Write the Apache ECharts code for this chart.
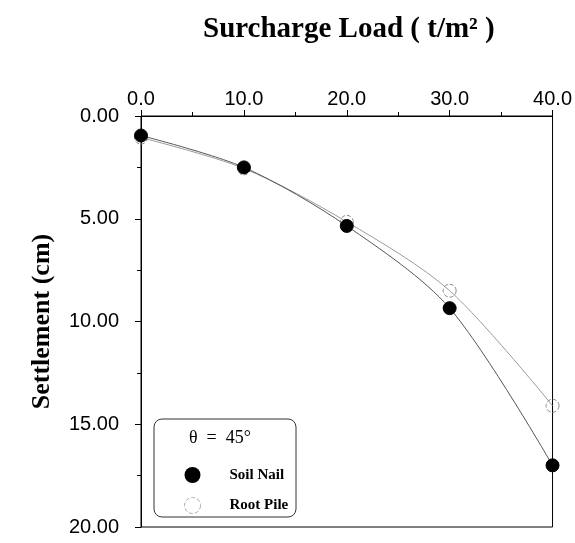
<!DOCTYPE html>
<html>
<head>
<meta charset="utf-8">
<script src="https://cdn.jsdelivr.net/npm/echarts@6/dist/echarts.min.js"></script>
<style>
  html, body { margin: 0; padding: 0; background: #fff; }
  #main { width: 575px; height: 543px; }
</style>
</head>
<body>
<div id="main"></div>
<script>
var loads = [0, 10, 20, 30, 40];
var soilNail = [0.95, 2.5, 5.35, 9.35, 17.0];
var rootPile = [1.05, 2.55, 5.15, 8.5, 14.1];
var seriesNames = ['Soil Nail', 'Root Pile'];

function pairs(vals) {
    return loads.map(function (x, i) { return [x, vals[i]]; });
}

var myChart = echarts.init(document.getElementById('main'));

var option = {
    animation: false,
    title: {
        text: 'Surcharge Load ( t/m\u00B2 )',
        left: 198,
        top: 10,
        textStyle: {
            fontFamily: 'Liberation Serif',
            fontWeight: 'bold',
            fontSize: 29,
            color: '#000'
        }
    },
    grid: {
        left: 141, right: 22, top: 116, bottom: 16,
        show: true,
        borderColor: '#000',
        borderWidth: 1
    },
    legend: {
        orient: 'vertical',
        left: 179,
        top: 462,
        itemWidth: 16,
        itemHeight: 16,
        itemGap: 14,
        data: [
            { name: seriesNames[0], icon: 'circle' },
            { name: seriesNames[1], icon: 'circle',
              itemStyle: { color: 'rgba(255,255,255,0)', borderColor: '#aaa', borderWidth: 1, borderType: 'dashed' } }
        ],
        textStyle: {
            fontFamily: 'Liberation Serif',
            fontWeight: 'bold',
            fontSize: 15,
            color: '#000',
            padding: [0, 0, 0, 24]
        }
    },
    xAxis: {
        type: 'value',
        position: 'top',
        min: 0, max: 40, interval: 10,
        axisLine: { lineStyle: { color: '#000', width: 1 } },
        axisTick: { show: true, length: 6, lineStyle: { color: '#000' } },
        minorTick: { show: true, splitNumber: 2, length: 4, lineStyle: { color: '#000' } },
        splitLine: { show: false },
        axisLabel: {
            margin: 7,
            fontFamily: 'Liberation Sans',
            fontSize: 20,
            color: '#000',
            formatter: function (v) { return v.toFixed(1); }
        }
    },
    yAxis: {
        type: 'value',
        inverse: true,
        min: 0, max: 20, interval: 5,
        name: 'Settlement (cm)',
        nameLocation: 'middle',
        nameRotate: 90,
        nameGap: 86,
        nameTextStyle: {
            fontFamily: 'Liberation Serif',
            fontWeight: 'bold',
            fontSize: 26,
            color: '#000'
        },
        axisLine: { show: true, lineStyle: { color: '#000', width: 1 } },
        axisTick: { show: true, length: 6, lineStyle: { color: '#000' } },
        minorTick: { show: true, splitNumber: 2, length: 4, lineStyle: { color: '#000' } },
        splitLine: { show: false },
        axisLabel: {
            margin: 22,
            fontFamily: 'Liberation Sans',
            fontSize: 20,
            color: '#000',
            formatter: function (v) { return v.toFixed(2); }
        }
    },
    graphic: [
        {
            type: 'rect',
            shape: { x: 154, y: 419, width: 142, height: 98, r: 8 },
            style: { fill: 'rgba(0,0,0,0)', stroke: '#333', lineWidth: 1 },
            z: 1
        },
        {
            type: 'text',
            left: 189,
            top: 429,
            style: {
                text: '\u03B8  =  45\u00B0',
                font: '18px "Liberation Serif"',
                fill: '#000'
            },
            z: 2
        }
    ],
    series: [
        {
            name: seriesNames[0],
            type: 'line',
            smooth: 0.3,
            data: pairs(soilNail),
            symbol: 'circle',
            symbolSize: 13,
            z: 3,
            lineStyle: { color: '#555', width: 1 },
            itemStyle: { color: '#000', borderColor: '#000' }
        },
        {
            name: seriesNames[1],
            type: 'line',
            smooth: 0.3,
            data: pairs(rootPile),
            symbol: 'circle',
            symbolSize: 13,
            z: 2,
            lineStyle: { color: '#999', width: 1 },
            itemStyle: { color: 'rgba(255,255,255,0)', borderColor: '#888', borderWidth: 1, borderType: 'dashed' }
        }
    ]
};

myChart.setOption(option);
</script>
</body>
</html>
